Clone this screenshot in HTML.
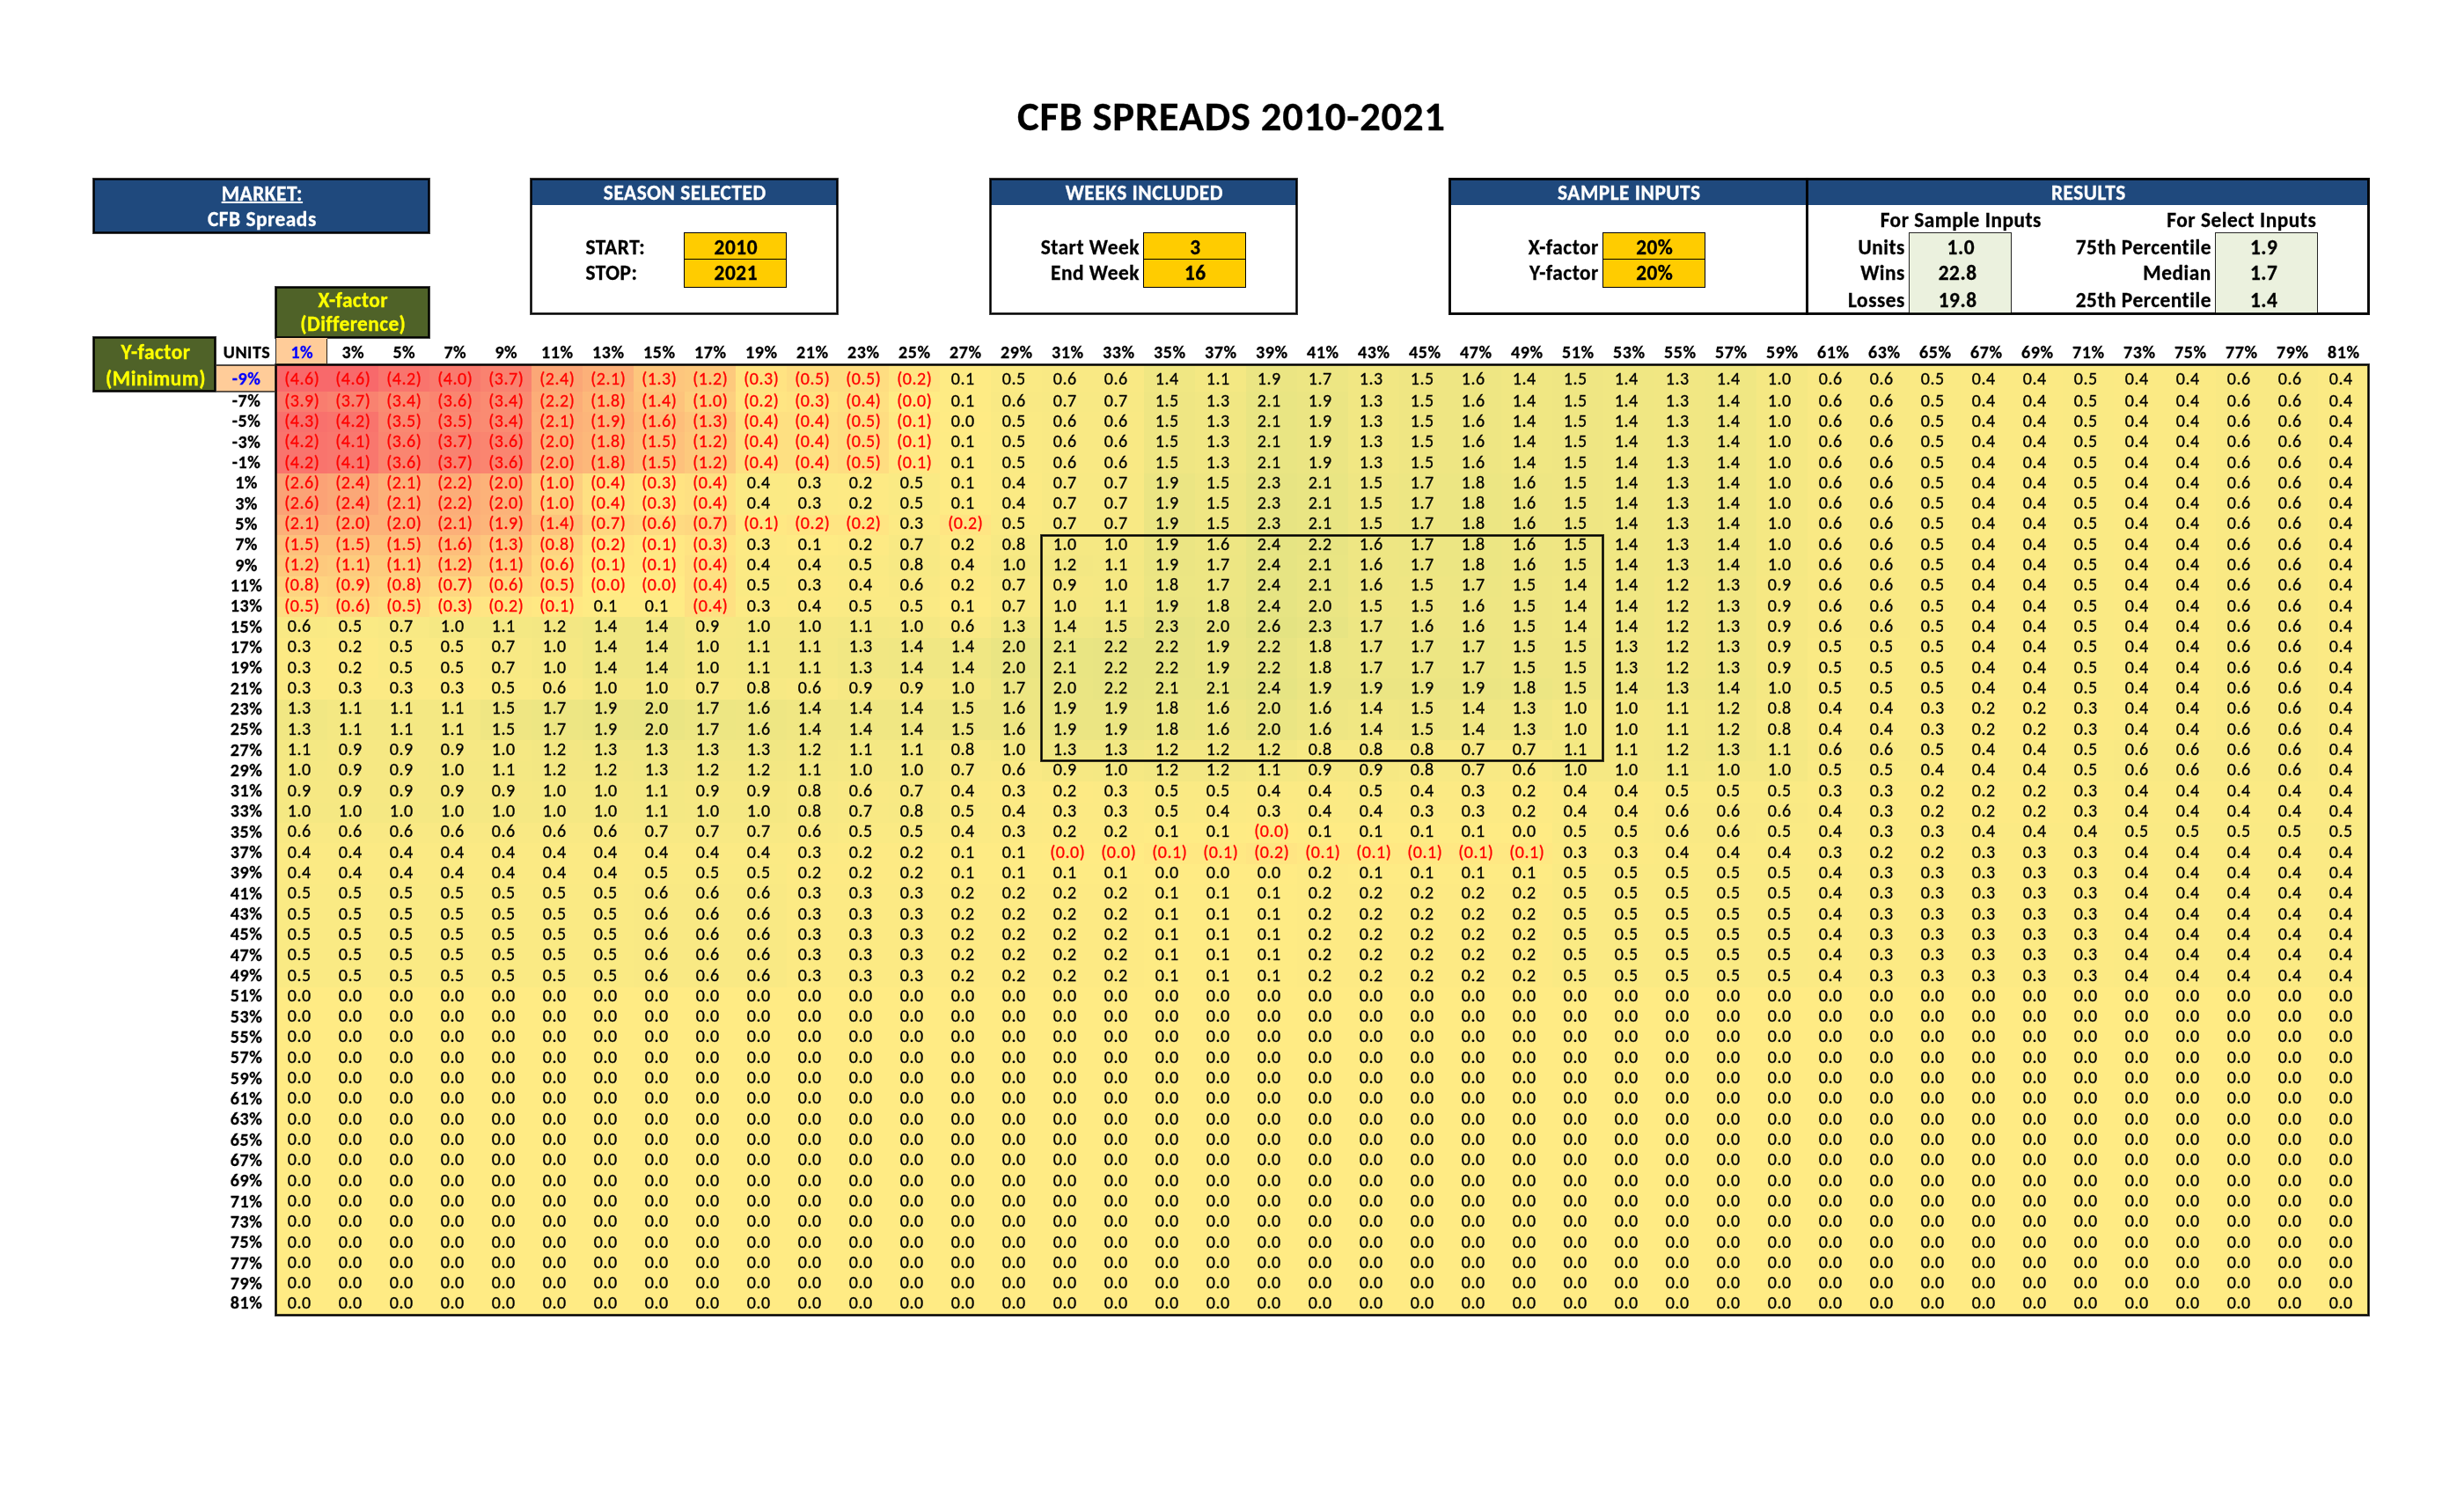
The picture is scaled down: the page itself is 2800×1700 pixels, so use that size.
<!DOCTYPE html><html lang="en"><head><meta charset="utf-8"><title>CFB SPREADS 2010-2021</title>
<style>
html,body{margin:0;padding:0;background:#fff}
body{width:2800px;height:1700px;position:relative;overflow:hidden;font-family:Carlito, Calibri, "Liberation Sans", sans-serif;font-size:20px;color:#000;letter-spacing:0.026em;-webkit-text-stroke:.3px}
div,span,b,i{box-sizing:border-box}
.a{position:absolute;white-space:nowrap}
.r{position:absolute;left:314.3px;width:2378px;white-space:nowrap;font-size:0;letter-spacing:0}
.r i{display:inline-block;font-style:normal;width:58px;height:100%;text-align:center;font-size:20.0px;vertical-align:top;padding-right:6px;letter-spacing:0.026em}
.r i.n{color:#f00;padding-right:0}
.fr{border:1px solid #000;box-shadow:0 0 0 1px rgba(0,0,0,.75),inset 0 0 0 1px rgba(0,0,0,.75)}
.t{position:absolute;white-space:nowrap;font-weight:bold}
.c0{background:#f8696b}
.c1{background:#f8716d}
.c2{background:#f9746d}
.c3{background:#f9776e}
.c4{background:#f97a6e}
.c5{background:#f97d6f}
.c6{background:#f98270}
.c7{background:#fa8570}
.c8{background:#fa8871}
.c9{background:#fa8b72}
.c10{background:#fba276}
.c11{background:#fba777}
.c12{background:#fcad78}
.c13{background:#fcb079}
.c14{background:#fcb279}
.c15{background:#fcb57a}
.c16{background:#fcb87a}
.c17{background:#fdbe7b}
.c18{background:#fdc17c}
.c19{background:#fdc37c}
.c20{background:#fdc67d}
.c21{background:#fdc97d}
.c22{background:#fdcc7e}
.c23{background:#fdcf7f}
.c24{background:#fed27f}
.c25{background:#fed480}
.c26{background:#fed780}
.c27{background:#feda81}
.c28{background:#fedd81}
.c29{background:#fee082}
.c30{background:#ffe382}
.c31{background:#ffe583}
.c32{background:#ffe883}
.c33{background:#ffeb84}
.c34{background:#feeb84}
.c35{background:#fdea84}
.c36{background:#fcea84}
.c37{background:#fbea84}
.c38{background:#faea84}
.c39{background:#f9e984}
.c40{background:#f8e984}
.c41{background:#f7e984}
.c42{background:#f6e883}
.c43{background:#f5e883}
.c44{background:#f4e883}
.c45{background:#f3e783}
.c46{background:#f1e783}
.c47{background:#f0e783}
.c48{background:#efe683}
.c49{background:#eee683}
.c50{background:#ede683}
.c51{background:#ece683}
.c52{background:#ebe583}
.c53{background:#eae583}
.c54{background:#e9e583}
.c55{background:#e8e483}
.c56{background:#e7e483}
.c57{background:#e6e483}
.c58{background:#e4e382}
#w{position:absolute;left:0;top:0;width:2800px;height:1700px;will-change:transform}
</style></head><body><div id="w">
<div class="t" style="top:105.06px;font-size:46.67px;line-height:56px;color:#000;left:799.30px;width:1200px;text-align:center;letter-spacing:.7px;">CFB SPREADS 2010-2021</div>
<div class="a" style="left:106.60px;top:203.90px;width:380.90px;height:60.90px;background:#1f497d;"></div>
<div class="a fr" style="left:106.10px;top:203.40px;width:381.90px;height:61.90px"></div>
<div class="t" style="top:205.73px;font-size:23.33px;line-height:28px;color:#fff;left:-2.15px;width:600px;text-align:center;"><span style="text-decoration:underline;text-underline-offset:1px">MARKET:</span></div>
<div class="t" style="top:234.83px;font-size:23.33px;line-height:28px;color:#fff;left:-2.15px;width:600px;text-align:center;">CFB Spreads</div>
<div class="a" style="left:603.50px;top:203.90px;width:348.00px;height:29.60px;background:#1f497d;"></div>
<div class="a fr" style="left:603.00px;top:203.40px;width:349.00px;height:153.90px"></div>
<div class="t" style="top:205.33px;font-size:23.33px;line-height:28px;color:#fff;left:478.30px;width:600px;text-align:center;">SEASON SELECTED</div>
<div class="t" style="top:266.93px;font-size:23.33px;line-height:28px;color:#000;left:665.50px;">START:</div>
<div class="t" style="top:296.43px;font-size:23.33px;line-height:28px;color:#000;left:665.50px;">STOP:</div>
<div class="a" style="left:777.50px;top:264.80px;width:116.00px;height:30.10px;background:#ffcc00;"></div>
<div class="a" style="left:776.90px;top:264.20px;width:117.20px;height:31.30px;border:1.2px solid #000"></div>
<div class="t" style="top:266.93px;font-size:23.33px;line-height:28px;color:#000;left:778.30px;width:116px;text-align:center;">2010</div>
<div class="a" style="left:777.50px;top:294.90px;width:116.00px;height:31.40px;background:#ffcc00;"></div>
<div class="a" style="left:776.90px;top:294.30px;width:117.20px;height:32.60px;border:1.2px solid #000"></div>
<div class="t" style="top:296.43px;font-size:23.33px;line-height:28px;color:#000;left:778.30px;width:116px;text-align:center;">2021</div>
<div class="a" style="left:1125.50px;top:203.90px;width:348.00px;height:29.60px;background:#1f497d;"></div>
<div class="a fr" style="left:1125.00px;top:203.40px;width:349.00px;height:153.90px"></div>
<div class="t" style="top:205.33px;font-size:23.33px;line-height:28px;color:#fff;left:1000.30px;width:600px;text-align:center;">WEEKS INCLUDED</div>
<div class="t" style="top:266.93px;font-size:23.33px;line-height:28px;color:#000;right:1505.10px;text-align:right;">Start Week</div>
<div class="t" style="top:296.43px;font-size:23.33px;line-height:28px;color:#000;right:1505.10px;text-align:right;">End Week</div>
<div class="a" style="left:1299.50px;top:264.80px;width:116.00px;height:30.10px;background:#ffcc00;"></div>
<div class="a" style="left:1298.90px;top:264.20px;width:117.20px;height:31.30px;border:1.2px solid #000"></div>
<div class="t" style="top:266.93px;font-size:23.33px;line-height:28px;color:#000;left:1300.30px;width:116px;text-align:center;">3</div>
<div class="a" style="left:1299.50px;top:294.90px;width:116.00px;height:31.40px;background:#ffcc00;"></div>
<div class="a" style="left:1298.90px;top:294.30px;width:117.20px;height:32.60px;border:1.2px solid #000"></div>
<div class="t" style="top:296.43px;font-size:23.33px;line-height:28px;color:#000;left:1300.30px;width:116px;text-align:center;">16</div>
<div class="a" style="left:1647.50px;top:203.90px;width:406.00px;height:29.60px;background:#1f497d;"></div>
<div class="a fr" style="left:1647.00px;top:203.40px;width:407.00px;height:153.90px"></div>
<div class="t" style="top:205.33px;font-size:23.33px;line-height:28px;color:#fff;left:1551.30px;width:600px;text-align:center;">SAMPLE INPUTS</div>
<div class="t" style="top:266.93px;font-size:23.33px;line-height:28px;color:#000;right:983.10px;text-align:right;">X-factor</div>
<div class="t" style="top:296.43px;font-size:23.33px;line-height:28px;color:#000;right:983.10px;text-align:right;">Y-factor</div>
<div class="a" style="left:1821.50px;top:264.80px;width:116.00px;height:30.10px;background:#ffcc00;"></div>
<div class="a" style="left:1820.90px;top:264.20px;width:117.20px;height:31.30px;border:1.2px solid #000"></div>
<div class="t" style="top:266.93px;font-size:23.33px;line-height:28px;color:#000;left:1822.30px;width:116px;text-align:center;">20%</div>
<div class="a" style="left:1821.50px;top:294.90px;width:116.00px;height:31.40px;background:#ffcc00;"></div>
<div class="a" style="left:1820.90px;top:294.30px;width:117.20px;height:32.60px;border:1.2px solid #000"></div>
<div class="t" style="top:296.43px;font-size:23.33px;line-height:28px;color:#000;left:1822.30px;width:116px;text-align:center;">20%</div>
<div class="a" style="left:2053.50px;top:203.90px;width:638.00px;height:29.60px;background:#1f497d;"></div>
<div class="a fr" style="left:2053.00px;top:203.40px;width:639.00px;height:153.90px"></div>
<div class="t" style="top:205.33px;font-size:23.33px;line-height:28px;color:#fff;left:2073.30px;width:600px;text-align:center;">RESULTS</div>
<div class="t" style="top:235.53px;font-size:23.33px;line-height:28px;color:#000;left:1928.30px;width:600px;text-align:center;">For Sample Inputs</div>
<div class="t" style="top:235.53px;font-size:23.33px;line-height:28px;color:#000;left:2247.30px;width:600px;text-align:center;">For Select Inputs</div>
<div class="a" style="left:2169.50px;top:264.80px;width:116.00px;height:92.00px;background:#ebf1de;"></div>
<div class="a" style="left:2168.90px;top:264.20px;width:117.20px;height:93.20px;border:1.2px solid #262626"></div>
<div class="a" style="left:2517.50px;top:264.80px;width:116.00px;height:92.00px;background:#ebf1de;"></div>
<div class="a" style="left:2516.90px;top:264.20px;width:117.20px;height:93.20px;border:1.2px solid #262626"></div>
<div class="t" style="top:266.93px;font-size:23.33px;line-height:28px;color:#000;right:635.10px;text-align:right;">Units</div>
<div class="t" style="top:266.93px;font-size:23.33px;line-height:28px;color:#000;left:2170.30px;width:116px;text-align:center;">1.0</div>
<div class="t" style="top:266.93px;font-size:23.33px;line-height:28px;color:#000;right:287.10px;text-align:right;">75th Percentile</div>
<div class="t" style="top:266.93px;font-size:23.33px;line-height:28px;color:#000;left:2514.70px;width:116px;text-align:center;">1.9</div>
<div class="t" style="top:296.43px;font-size:23.33px;line-height:28px;color:#000;right:635.10px;text-align:right;">Wins</div>
<div class="t" style="top:296.43px;font-size:23.33px;line-height:28px;color:#000;left:2166.70px;width:116px;text-align:center;">22.8</div>
<div class="t" style="top:296.43px;font-size:23.33px;line-height:28px;color:#000;right:287.10px;text-align:right;">Median</div>
<div class="t" style="top:296.43px;font-size:23.33px;line-height:28px;color:#000;left:2514.70px;width:116px;text-align:center;">1.7</div>
<div class="t" style="top:326.93px;font-size:23.33px;line-height:28px;color:#000;right:635.10px;text-align:right;">Losses</div>
<div class="t" style="top:326.93px;font-size:23.33px;line-height:28px;color:#000;left:2166.70px;width:116px;text-align:center;">19.8</div>
<div class="t" style="top:326.93px;font-size:23.33px;line-height:28px;color:#000;right:287.10px;text-align:right;">25th Percentile</div>
<div class="t" style="top:326.93px;font-size:23.33px;line-height:28px;color:#000;left:2514.70px;width:116px;text-align:center;">1.4</div>
<div class="a fr" style="left:2053.00px;top:203.40px;width:639.00px;height:153.90px"></div>
<div class="a fr" style="left:1647.00px;top:203.40px;width:407.00px;height:153.90px"></div>
<div class="a" style="left:313.50px;top:326.30px;width:174.00px;height:57.50px;background:#4f6228;"></div>
<div class="a fr" style="left:313.00px;top:325.80px;width:175.00px;height:58.50px"></div>
<div class="t" style="top:327.03px;font-size:23.33px;line-height:28px;color:#ff0;left:101.30px;width:600px;text-align:center;letter-spacing:.018em;">X-factor</div>
<div class="t" style="top:354.03px;font-size:23.33px;line-height:28px;color:#ff0;left:101.30px;width:600px;text-align:center;letter-spacing:.018em;">(Difference)</div>
<div class="a" style="left:106.60px;top:383.80px;width:138.20px;height:61.00px;background:#4f6228;"></div>
<div class="a fr" style="left:106.10px;top:383.30px;width:139.20px;height:61.80px"></div>
<div class="t" style="top:385.83px;font-size:23.33px;line-height:28px;color:#ff0;left:-122.90px;width:600px;text-align:center;">Y-factor</div>
<div class="t" style="top:416.23px;font-size:23.33px;line-height:28px;color:#ff0;left:-122.90px;width:600px;text-align:center;">(Minimum)</div>
<div class="a" style="left:313.50px;top:383.80px;width:58.00px;height:30.70px;background:#ffcc99;"></div>
<div class="a" style="left:371.00px;top:385.30px;width:1.00px;height:27.70px;background:rgba(0,0,0,.85);"></div>
<div class="a" style="left:313.00px;top:385.30px;width:1.00px;height:27.70px;background:rgba(0,0,0,.85);"></div>
<div class="a" style="left:246.00px;top:414.50px;width:67.50px;height:30.30px;background:#ffcc99;"></div>
<div class="a" style="left:246.00px;top:444.00px;width:66.00px;height:2.00px;background:rgba(0,0,0,.62);"></div>
<div class="a" style="left:246.00px;top:414.00px;width:66.00px;height:2.00px;background:rgba(0,0,0,.68);"></div>
<div class="t" style="top:388.37px;font-size:20px;line-height:24px;color:#000;left:240.55px;width:80px;text-align:center;">UNITS</div>
<div class="t" style="top:388.37px;font-size:20px;line-height:24px;color:#00f;left:314.30px;width:58px;text-align:center;">1%</div>
<div class="t" style="top:388.37px;font-size:20px;line-height:24px;color:#000;left:372.30px;width:58px;text-align:center;">3%</div>
<div class="t" style="top:388.37px;font-size:20px;line-height:24px;color:#000;left:430.30px;width:58px;text-align:center;">5%</div>
<div class="t" style="top:388.37px;font-size:20px;line-height:24px;color:#000;left:488.30px;width:58px;text-align:center;">7%</div>
<div class="t" style="top:388.37px;font-size:20px;line-height:24px;color:#000;left:546.30px;width:58px;text-align:center;">9%</div>
<div class="t" style="top:388.37px;font-size:20px;line-height:24px;color:#000;left:604.30px;width:58px;text-align:center;">11%</div>
<div class="t" style="top:388.37px;font-size:20px;line-height:24px;color:#000;left:662.30px;width:58px;text-align:center;">13%</div>
<div class="t" style="top:388.37px;font-size:20px;line-height:24px;color:#000;left:720.30px;width:58px;text-align:center;">15%</div>
<div class="t" style="top:388.37px;font-size:20px;line-height:24px;color:#000;left:778.30px;width:58px;text-align:center;">17%</div>
<div class="t" style="top:388.37px;font-size:20px;line-height:24px;color:#000;left:836.30px;width:58px;text-align:center;">19%</div>
<div class="t" style="top:388.37px;font-size:20px;line-height:24px;color:#000;left:894.30px;width:58px;text-align:center;">21%</div>
<div class="t" style="top:388.37px;font-size:20px;line-height:24px;color:#000;left:952.30px;width:58px;text-align:center;">23%</div>
<div class="t" style="top:388.37px;font-size:20px;line-height:24px;color:#000;left:1010.30px;width:58px;text-align:center;">25%</div>
<div class="t" style="top:388.37px;font-size:20px;line-height:24px;color:#000;left:1068.30px;width:58px;text-align:center;">27%</div>
<div class="t" style="top:388.37px;font-size:20px;line-height:24px;color:#000;left:1126.30px;width:58px;text-align:center;">29%</div>
<div class="t" style="top:388.37px;font-size:20px;line-height:24px;color:#000;left:1184.30px;width:58px;text-align:center;">31%</div>
<div class="t" style="top:388.37px;font-size:20px;line-height:24px;color:#000;left:1242.30px;width:58px;text-align:center;">33%</div>
<div class="t" style="top:388.37px;font-size:20px;line-height:24px;color:#000;left:1300.30px;width:58px;text-align:center;">35%</div>
<div class="t" style="top:388.37px;font-size:20px;line-height:24px;color:#000;left:1358.30px;width:58px;text-align:center;">37%</div>
<div class="t" style="top:388.37px;font-size:20px;line-height:24px;color:#000;left:1416.30px;width:58px;text-align:center;">39%</div>
<div class="t" style="top:388.37px;font-size:20px;line-height:24px;color:#000;left:1474.30px;width:58px;text-align:center;">41%</div>
<div class="t" style="top:388.37px;font-size:20px;line-height:24px;color:#000;left:1532.30px;width:58px;text-align:center;">43%</div>
<div class="t" style="top:388.37px;font-size:20px;line-height:24px;color:#000;left:1590.30px;width:58px;text-align:center;">45%</div>
<div class="t" style="top:388.37px;font-size:20px;line-height:24px;color:#000;left:1648.30px;width:58px;text-align:center;">47%</div>
<div class="t" style="top:388.37px;font-size:20px;line-height:24px;color:#000;left:1706.30px;width:58px;text-align:center;">49%</div>
<div class="t" style="top:388.37px;font-size:20px;line-height:24px;color:#000;left:1764.30px;width:58px;text-align:center;">51%</div>
<div class="t" style="top:388.37px;font-size:20px;line-height:24px;color:#000;left:1822.30px;width:58px;text-align:center;">53%</div>
<div class="t" style="top:388.37px;font-size:20px;line-height:24px;color:#000;left:1880.30px;width:58px;text-align:center;">55%</div>
<div class="t" style="top:388.37px;font-size:20px;line-height:24px;color:#000;left:1938.30px;width:58px;text-align:center;">57%</div>
<div class="t" style="top:388.37px;font-size:20px;line-height:24px;color:#000;left:1996.30px;width:58px;text-align:center;">59%</div>
<div class="t" style="top:388.37px;font-size:20px;line-height:24px;color:#000;left:2054.30px;width:58px;text-align:center;">61%</div>
<div class="t" style="top:388.37px;font-size:20px;line-height:24px;color:#000;left:2112.30px;width:58px;text-align:center;">63%</div>
<div class="t" style="top:388.37px;font-size:20px;line-height:24px;color:#000;left:2170.30px;width:58px;text-align:center;">65%</div>
<div class="t" style="top:388.37px;font-size:20px;line-height:24px;color:#000;left:2228.30px;width:58px;text-align:center;">67%</div>
<div class="t" style="top:388.37px;font-size:20px;line-height:24px;color:#000;left:2286.30px;width:58px;text-align:center;">69%</div>
<div class="t" style="top:388.37px;font-size:20px;line-height:24px;color:#000;left:2344.30px;width:58px;text-align:center;">71%</div>
<div class="t" style="top:388.37px;font-size:20px;line-height:24px;color:#000;left:2402.30px;width:58px;text-align:center;">73%</div>
<div class="t" style="top:388.37px;font-size:20px;line-height:24px;color:#000;left:2460.30px;width:58px;text-align:center;">75%</div>
<div class="t" style="top:388.37px;font-size:20px;line-height:24px;color:#000;left:2518.30px;width:58px;text-align:center;">77%</div>
<div class="t" style="top:388.37px;font-size:20px;line-height:24px;color:#000;left:2576.30px;width:58px;text-align:center;">79%</div>
<div class="t" style="top:388.37px;font-size:20px;line-height:24px;color:#000;left:2634.30px;width:58px;text-align:center;">81%</div>
<div class="t" style="top:418.37px;font-size:20px;line-height:24px;color:#00f;left:246.55px;width:67px;text-align:center;">-9%</div>
<div class="t" style="top:443.07px;font-size:20px;line-height:24px;color:#000;left:246.55px;width:67px;text-align:center;">-7%</div>
<div class="t" style="top:466.39px;font-size:20px;line-height:24px;color:#000;left:246.55px;width:67px;text-align:center;">-5%</div>
<div class="t" style="top:489.71px;font-size:20px;line-height:24px;color:#000;left:246.55px;width:67px;text-align:center;">-3%</div>
<div class="t" style="top:513.03px;font-size:20px;line-height:24px;color:#000;left:246.55px;width:67px;text-align:center;">-1%</div>
<div class="t" style="top:536.35px;font-size:20px;line-height:24px;color:#000;left:246.55px;width:67px;text-align:center;">1%</div>
<div class="t" style="top:559.67px;font-size:20px;line-height:24px;color:#000;left:246.55px;width:67px;text-align:center;">3%</div>
<div class="t" style="top:582.99px;font-size:20px;line-height:24px;color:#000;left:246.55px;width:67px;text-align:center;">5%</div>
<div class="t" style="top:606.31px;font-size:20px;line-height:24px;color:#000;left:246.55px;width:67px;text-align:center;">7%</div>
<div class="t" style="top:629.63px;font-size:20px;line-height:24px;color:#000;left:246.55px;width:67px;text-align:center;">9%</div>
<div class="t" style="top:652.95px;font-size:20px;line-height:24px;color:#000;left:246.55px;width:67px;text-align:center;">11%</div>
<div class="t" style="top:676.27px;font-size:20px;line-height:24px;color:#000;left:246.55px;width:67px;text-align:center;">13%</div>
<div class="t" style="top:699.59px;font-size:20px;line-height:24px;color:#000;left:246.55px;width:67px;text-align:center;">15%</div>
<div class="t" style="top:722.91px;font-size:20px;line-height:24px;color:#000;left:246.55px;width:67px;text-align:center;">17%</div>
<div class="t" style="top:746.23px;font-size:20px;line-height:24px;color:#000;left:246.55px;width:67px;text-align:center;">19%</div>
<div class="t" style="top:769.55px;font-size:20px;line-height:24px;color:#000;left:246.55px;width:67px;text-align:center;">21%</div>
<div class="t" style="top:792.87px;font-size:20px;line-height:24px;color:#000;left:246.55px;width:67px;text-align:center;">23%</div>
<div class="t" style="top:816.19px;font-size:20px;line-height:24px;color:#000;left:246.55px;width:67px;text-align:center;">25%</div>
<div class="t" style="top:839.51px;font-size:20px;line-height:24px;color:#000;left:246.55px;width:67px;text-align:center;">27%</div>
<div class="t" style="top:862.83px;font-size:20px;line-height:24px;color:#000;left:246.55px;width:67px;text-align:center;">29%</div>
<div class="t" style="top:886.15px;font-size:20px;line-height:24px;color:#000;left:246.55px;width:67px;text-align:center;">31%</div>
<div class="t" style="top:909.47px;font-size:20px;line-height:24px;color:#000;left:246.55px;width:67px;text-align:center;">33%</div>
<div class="t" style="top:932.79px;font-size:20px;line-height:24px;color:#000;left:246.55px;width:67px;text-align:center;">35%</div>
<div class="t" style="top:956.11px;font-size:20px;line-height:24px;color:#000;left:246.55px;width:67px;text-align:center;">37%</div>
<div class="t" style="top:979.43px;font-size:20px;line-height:24px;color:#000;left:246.55px;width:67px;text-align:center;">39%</div>
<div class="t" style="top:1002.75px;font-size:20px;line-height:24px;color:#000;left:246.55px;width:67px;text-align:center;">41%</div>
<div class="t" style="top:1026.07px;font-size:20px;line-height:24px;color:#000;left:246.55px;width:67px;text-align:center;">43%</div>
<div class="t" style="top:1049.39px;font-size:20px;line-height:24px;color:#000;left:246.55px;width:67px;text-align:center;">45%</div>
<div class="t" style="top:1072.71px;font-size:20px;line-height:24px;color:#000;left:246.55px;width:67px;text-align:center;">47%</div>
<div class="t" style="top:1096.03px;font-size:20px;line-height:24px;color:#000;left:246.55px;width:67px;text-align:center;">49%</div>
<div class="t" style="top:1119.35px;font-size:20px;line-height:24px;color:#000;left:246.55px;width:67px;text-align:center;">51%</div>
<div class="t" style="top:1142.67px;font-size:20px;line-height:24px;color:#000;left:246.55px;width:67px;text-align:center;">53%</div>
<div class="t" style="top:1165.99px;font-size:20px;line-height:24px;color:#000;left:246.55px;width:67px;text-align:center;">55%</div>
<div class="t" style="top:1189.31px;font-size:20px;line-height:24px;color:#000;left:246.55px;width:67px;text-align:center;">57%</div>
<div class="t" style="top:1212.63px;font-size:20px;line-height:24px;color:#000;left:246.55px;width:67px;text-align:center;">59%</div>
<div class="t" style="top:1235.95px;font-size:20px;line-height:24px;color:#000;left:246.55px;width:67px;text-align:center;">61%</div>
<div class="t" style="top:1259.27px;font-size:20px;line-height:24px;color:#000;left:246.55px;width:67px;text-align:center;">63%</div>
<div class="t" style="top:1282.59px;font-size:20px;line-height:24px;color:#000;left:246.55px;width:67px;text-align:center;">65%</div>
<div class="t" style="top:1305.91px;font-size:20px;line-height:24px;color:#000;left:246.55px;width:67px;text-align:center;">67%</div>
<div class="t" style="top:1329.23px;font-size:20px;line-height:24px;color:#000;left:246.55px;width:67px;text-align:center;">69%</div>
<div class="t" style="top:1352.55px;font-size:20px;line-height:24px;color:#000;left:246.55px;width:67px;text-align:center;">71%</div>
<div class="t" style="top:1375.87px;font-size:20px;line-height:24px;color:#000;left:246.55px;width:67px;text-align:center;">73%</div>
<div class="t" style="top:1399.19px;font-size:20px;line-height:24px;color:#000;left:246.55px;width:67px;text-align:center;">75%</div>
<div class="t" style="top:1422.51px;font-size:20px;line-height:24px;color:#000;left:246.55px;width:67px;text-align:center;">77%</div>
<div class="t" style="top:1445.53px;font-size:20px;line-height:24px;color:#000;left:246.55px;width:67px;text-align:center;">79%</div>
<div class="t" style="top:1468.35px;font-size:20px;line-height:24px;color:#000;left:246.55px;width:67px;text-align:center;">81%</div>
<div class="r" style="top:414px;height:31px;line-height:32.73px"><i class="c0 n">(4.6)</i><i class="c0 n">(4.6)</i><i class="c2 n">(4.2)</i><i class="c4 n">(4.0)</i><i class="c6 n">(3.7)</i><i class="c11 n">(2.4)</i><i class="c13 n">(2.1)</i><i class="c20 n">(1.3)</i><i class="c21 n">(1.2)</i><i class="c30 n">(0.3)</i><i class="c28 n">(0.5)</i><i class="c28 n">(0.5)</i><i class="c31 n">(0.2)</i><i class="c34">0.1</i><i class="c38">0.5</i><i class="c39">0.6</i><i class="c39">0.6</i><i class="c47">1.4</i><i class="c44">1.1</i><i class="c52">1.9</i><i class="c50">1.7</i><i class="c46">1.3</i><i class="c48">1.5</i><i class="c49">1.6</i><i class="c47">1.4</i><i class="c48">1.5</i><i class="c47">1.4</i><i class="c46">1.3</i><i class="c47">1.4</i><i class="c43">1.0</i><i class="c39">0.6</i><i class="c39">0.6</i><i class="c38">0.5</i><i class="c37">0.4</i><i class="c37">0.4</i><i class="c38">0.5</i><i class="c37">0.4</i><i class="c37">0.4</i><i class="c39">0.6</i><i class="c39">0.6</i><i class="c37">0.4</i></div>
<div class="r" style="top:445px;height:23px;line-height:20.13px"><i class="c5 n">(3.9)</i><i class="c6 n">(3.7)</i><i class="c9 n">(3.4)</i><i class="c7 n">(3.6)</i><i class="c9 n">(3.4)</i><i class="c12 n">(2.2)</i><i class="c16 n">(1.8)</i><i class="c19 n">(1.4)</i><i class="c23 n">(1.0)</i><i class="c31 n">(0.2)</i><i class="c30 n">(0.3)</i><i class="c29 n">(0.4)</i><i class="c33 n">(0.0)</i><i class="c34">0.1</i><i class="c39">0.6</i><i class="c40">0.7</i><i class="c40">0.7</i><i class="c48">1.5</i><i class="c46">1.3</i><i class="c54">2.1</i><i class="c52">1.9</i><i class="c46">1.3</i><i class="c48">1.5</i><i class="c49">1.6</i><i class="c47">1.4</i><i class="c48">1.5</i><i class="c47">1.4</i><i class="c46">1.3</i><i class="c47">1.4</i><i class="c43">1.0</i><i class="c39">0.6</i><i class="c39">0.6</i><i class="c38">0.5</i><i class="c37">0.4</i><i class="c37">0.4</i><i class="c38">0.5</i><i class="c37">0.4</i><i class="c37">0.4</i><i class="c39">0.6</i><i class="c39">0.6</i><i class="c37">0.4</i></div>
<div class="r" style="top:468px;height:23px;line-height:20.77px"><i class="c1 n">(4.3)</i><i class="c2 n">(4.2)</i><i class="c8 n">(3.5)</i><i class="c8 n">(3.5)</i><i class="c9 n">(3.4)</i><i class="c13 n">(2.1)</i><i class="c15 n">(1.9)</i><i class="c17 n">(1.6)</i><i class="c20 n">(1.3)</i><i class="c29 n">(0.4)</i><i class="c29 n">(0.4)</i><i class="c28 n">(0.5)</i><i class="c32 n">(0.1)</i><i class="c33">0.0</i><i class="c38">0.5</i><i class="c39">0.6</i><i class="c39">0.6</i><i class="c48">1.5</i><i class="c46">1.3</i><i class="c54">2.1</i><i class="c52">1.9</i><i class="c46">1.3</i><i class="c48">1.5</i><i class="c49">1.6</i><i class="c47">1.4</i><i class="c48">1.5</i><i class="c47">1.4</i><i class="c46">1.3</i><i class="c47">1.4</i><i class="c43">1.0</i><i class="c39">0.6</i><i class="c39">0.6</i><i class="c38">0.5</i><i class="c37">0.4</i><i class="c37">0.4</i><i class="c38">0.5</i><i class="c37">0.4</i><i class="c37">0.4</i><i class="c39">0.6</i><i class="c39">0.6</i><i class="c37">0.4</i></div>
<div class="r" style="top:491px;height:24px;line-height:21.41px"><i class="c2 n">(4.2)</i><i class="c3 n">(4.1)</i><i class="c7 n">(3.6)</i><i class="c6 n">(3.7)</i><i class="c7 n">(3.6)</i><i class="c14 n">(2.0)</i><i class="c16 n">(1.8)</i><i class="c18 n">(1.5)</i><i class="c21 n">(1.2)</i><i class="c29 n">(0.4)</i><i class="c29 n">(0.4)</i><i class="c28 n">(0.5)</i><i class="c32 n">(0.1)</i><i class="c34">0.1</i><i class="c38">0.5</i><i class="c39">0.6</i><i class="c39">0.6</i><i class="c48">1.5</i><i class="c46">1.3</i><i class="c54">2.1</i><i class="c52">1.9</i><i class="c46">1.3</i><i class="c48">1.5</i><i class="c49">1.6</i><i class="c47">1.4</i><i class="c48">1.5</i><i class="c47">1.4</i><i class="c46">1.3</i><i class="c47">1.4</i><i class="c43">1.0</i><i class="c39">0.6</i><i class="c39">0.6</i><i class="c38">0.5</i><i class="c37">0.4</i><i class="c37">0.4</i><i class="c38">0.5</i><i class="c37">0.4</i><i class="c37">0.4</i><i class="c39">0.6</i><i class="c39">0.6</i><i class="c37">0.4</i></div>
<div class="r" style="top:515px;height:23px;line-height:20.05px"><i class="c2 n">(4.2)</i><i class="c3 n">(4.1)</i><i class="c7 n">(3.6)</i><i class="c6 n">(3.7)</i><i class="c7 n">(3.6)</i><i class="c14 n">(2.0)</i><i class="c16 n">(1.8)</i><i class="c18 n">(1.5)</i><i class="c21 n">(1.2)</i><i class="c29 n">(0.4)</i><i class="c29 n">(0.4)</i><i class="c28 n">(0.5)</i><i class="c32 n">(0.1)</i><i class="c34">0.1</i><i class="c38">0.5</i><i class="c39">0.6</i><i class="c39">0.6</i><i class="c48">1.5</i><i class="c46">1.3</i><i class="c54">2.1</i><i class="c52">1.9</i><i class="c46">1.3</i><i class="c48">1.5</i><i class="c49">1.6</i><i class="c47">1.4</i><i class="c48">1.5</i><i class="c47">1.4</i><i class="c46">1.3</i><i class="c47">1.4</i><i class="c43">1.0</i><i class="c39">0.6</i><i class="c39">0.6</i><i class="c38">0.5</i><i class="c37">0.4</i><i class="c37">0.4</i><i class="c38">0.5</i><i class="c37">0.4</i><i class="c37">0.4</i><i class="c39">0.6</i><i class="c39">0.6</i><i class="c37">0.4</i></div>
<div class="r" style="top:538px;height:23px;line-height:20.69px"><i class="c10 n">(2.6)</i><i class="c11 n">(2.4)</i><i class="c13 n">(2.1)</i><i class="c12 n">(2.2)</i><i class="c14 n">(2.0)</i><i class="c23 n">(1.0)</i><i class="c29 n">(0.4)</i><i class="c30 n">(0.3)</i><i class="c29 n">(0.4)</i><i class="c37">0.4</i><i class="c36">0.3</i><i class="c35">0.2</i><i class="c38">0.5</i><i class="c34">0.1</i><i class="c37">0.4</i><i class="c40">0.7</i><i class="c40">0.7</i><i class="c52">1.9</i><i class="c48">1.5</i><i class="c56">2.3</i><i class="c54">2.1</i><i class="c48">1.5</i><i class="c50">1.7</i><i class="c51">1.8</i><i class="c49">1.6</i><i class="c48">1.5</i><i class="c47">1.4</i><i class="c46">1.3</i><i class="c47">1.4</i><i class="c43">1.0</i><i class="c39">0.6</i><i class="c39">0.6</i><i class="c38">0.5</i><i class="c37">0.4</i><i class="c37">0.4</i><i class="c38">0.5</i><i class="c37">0.4</i><i class="c37">0.4</i><i class="c39">0.6</i><i class="c39">0.6</i><i class="c37">0.4</i></div>
<div class="r" style="top:561px;height:24px;line-height:21.33px"><i class="c10 n">(2.6)</i><i class="c11 n">(2.4)</i><i class="c13 n">(2.1)</i><i class="c12 n">(2.2)</i><i class="c14 n">(2.0)</i><i class="c23 n">(1.0)</i><i class="c29 n">(0.4)</i><i class="c30 n">(0.3)</i><i class="c29 n">(0.4)</i><i class="c37">0.4</i><i class="c36">0.3</i><i class="c35">0.2</i><i class="c38">0.5</i><i class="c34">0.1</i><i class="c37">0.4</i><i class="c40">0.7</i><i class="c40">0.7</i><i class="c52">1.9</i><i class="c48">1.5</i><i class="c56">2.3</i><i class="c54">2.1</i><i class="c48">1.5</i><i class="c50">1.7</i><i class="c51">1.8</i><i class="c49">1.6</i><i class="c48">1.5</i><i class="c47">1.4</i><i class="c46">1.3</i><i class="c47">1.4</i><i class="c43">1.0</i><i class="c39">0.6</i><i class="c39">0.6</i><i class="c38">0.5</i><i class="c37">0.4</i><i class="c37">0.4</i><i class="c38">0.5</i><i class="c37">0.4</i><i class="c37">0.4</i><i class="c39">0.6</i><i class="c39">0.6</i><i class="c37">0.4</i></div>
<div class="r" style="top:585px;height:23px;line-height:19.97px"><i class="c13 n">(2.1)</i><i class="c14 n">(2.0)</i><i class="c14 n">(2.0)</i><i class="c13 n">(2.1)</i><i class="c15 n">(1.9)</i><i class="c19 n">(1.4)</i><i class="c26 n">(0.7)</i><i class="c27 n">(0.6)</i><i class="c26 n">(0.7)</i><i class="c32 n">(0.1)</i><i class="c31 n">(0.2)</i><i class="c31 n">(0.2)</i><i class="c36">0.3</i><i class="c31 n">(0.2)</i><i class="c38">0.5</i><i class="c40">0.7</i><i class="c40">0.7</i><i class="c52">1.9</i><i class="c48">1.5</i><i class="c56">2.3</i><i class="c54">2.1</i><i class="c48">1.5</i><i class="c50">1.7</i><i class="c51">1.8</i><i class="c49">1.6</i><i class="c48">1.5</i><i class="c47">1.4</i><i class="c46">1.3</i><i class="c47">1.4</i><i class="c43">1.0</i><i class="c39">0.6</i><i class="c39">0.6</i><i class="c38">0.5</i><i class="c37">0.4</i><i class="c37">0.4</i><i class="c38">0.5</i><i class="c37">0.4</i><i class="c37">0.4</i><i class="c39">0.6</i><i class="c39">0.6</i><i class="c37">0.4</i></div>
<div class="r" style="top:608px;height:23px;line-height:20.61px"><i class="c18 n">(1.5)</i><i class="c18 n">(1.5)</i><i class="c18 n">(1.5)</i><i class="c17 n">(1.6)</i><i class="c20 n">(1.3)</i><i class="c25 n">(0.8)</i><i class="c31 n">(0.2)</i><i class="c32 n">(0.1)</i><i class="c30 n">(0.3)</i><i class="c36">0.3</i><i class="c34">0.1</i><i class="c35">0.2</i><i class="c40">0.7</i><i class="c35">0.2</i><i class="c41">0.8</i><i class="c43">1.0</i><i class="c43">1.0</i><i class="c52">1.9</i><i class="c49">1.6</i><i class="c57">2.4</i><i class="c55">2.2</i><i class="c49">1.6</i><i class="c50">1.7</i><i class="c51">1.8</i><i class="c49">1.6</i><i class="c48">1.5</i><i class="c47">1.4</i><i class="c46">1.3</i><i class="c47">1.4</i><i class="c43">1.0</i><i class="c39">0.6</i><i class="c39">0.6</i><i class="c38">0.5</i><i class="c37">0.4</i><i class="c37">0.4</i><i class="c38">0.5</i><i class="c37">0.4</i><i class="c37">0.4</i><i class="c39">0.6</i><i class="c39">0.6</i><i class="c37">0.4</i></div>
<div class="r" style="top:631px;height:24px;line-height:21.25px"><i class="c21 n">(1.2)</i><i class="c22 n">(1.1)</i><i class="c22 n">(1.1)</i><i class="c21 n">(1.2)</i><i class="c22 n">(1.1)</i><i class="c27 n">(0.6)</i><i class="c32 n">(0.1)</i><i class="c32 n">(0.1)</i><i class="c29 n">(0.4)</i><i class="c37">0.4</i><i class="c37">0.4</i><i class="c38">0.5</i><i class="c41">0.8</i><i class="c37">0.4</i><i class="c43">1.0</i><i class="c45">1.2</i><i class="c44">1.1</i><i class="c52">1.9</i><i class="c50">1.7</i><i class="c57">2.4</i><i class="c54">2.1</i><i class="c49">1.6</i><i class="c50">1.7</i><i class="c51">1.8</i><i class="c49">1.6</i><i class="c48">1.5</i><i class="c47">1.4</i><i class="c46">1.3</i><i class="c47">1.4</i><i class="c43">1.0</i><i class="c39">0.6</i><i class="c39">0.6</i><i class="c38">0.5</i><i class="c37">0.4</i><i class="c37">0.4</i><i class="c38">0.5</i><i class="c37">0.4</i><i class="c37">0.4</i><i class="c39">0.6</i><i class="c39">0.6</i><i class="c37">0.4</i></div>
<div class="r" style="top:655px;height:23px;line-height:19.89px"><i class="c25 n">(0.8)</i><i class="c24 n">(0.9)</i><i class="c25 n">(0.8)</i><i class="c26 n">(0.7)</i><i class="c27 n">(0.6)</i><i class="c28 n">(0.5)</i><i class="c33 n">(0.0)</i><i class="c33 n">(0.0)</i><i class="c29 n">(0.4)</i><i class="c38">0.5</i><i class="c36">0.3</i><i class="c37">0.4</i><i class="c39">0.6</i><i class="c35">0.2</i><i class="c40">0.7</i><i class="c42">0.9</i><i class="c43">1.0</i><i class="c51">1.8</i><i class="c50">1.7</i><i class="c57">2.4</i><i class="c54">2.1</i><i class="c49">1.6</i><i class="c48">1.5</i><i class="c50">1.7</i><i class="c48">1.5</i><i class="c47">1.4</i><i class="c47">1.4</i><i class="c45">1.2</i><i class="c46">1.3</i><i class="c42">0.9</i><i class="c39">0.6</i><i class="c39">0.6</i><i class="c38">0.5</i><i class="c37">0.4</i><i class="c37">0.4</i><i class="c38">0.5</i><i class="c37">0.4</i><i class="c37">0.4</i><i class="c39">0.6</i><i class="c39">0.6</i><i class="c37">0.4</i></div>
<div class="r" style="top:678px;height:23px;line-height:20.53px"><i class="c28 n">(0.5)</i><i class="c27 n">(0.6)</i><i class="c28 n">(0.5)</i><i class="c30 n">(0.3)</i><i class="c31 n">(0.2)</i><i class="c32 n">(0.1)</i><i class="c34">0.1</i><i class="c34">0.1</i><i class="c29 n">(0.4)</i><i class="c36">0.3</i><i class="c37">0.4</i><i class="c38">0.5</i><i class="c38">0.5</i><i class="c34">0.1</i><i class="c40">0.7</i><i class="c43">1.0</i><i class="c44">1.1</i><i class="c52">1.9</i><i class="c51">1.8</i><i class="c57">2.4</i><i class="c53">2.0</i><i class="c48">1.5</i><i class="c48">1.5</i><i class="c49">1.6</i><i class="c48">1.5</i><i class="c47">1.4</i><i class="c47">1.4</i><i class="c45">1.2</i><i class="c46">1.3</i><i class="c42">0.9</i><i class="c39">0.6</i><i class="c39">0.6</i><i class="c38">0.5</i><i class="c37">0.4</i><i class="c37">0.4</i><i class="c38">0.5</i><i class="c37">0.4</i><i class="c37">0.4</i><i class="c39">0.6</i><i class="c39">0.6</i><i class="c37">0.4</i></div>
<div class="r" style="top:701px;height:24px;line-height:21.17px"><i class="c39">0.6</i><i class="c38">0.5</i><i class="c40">0.7</i><i class="c43">1.0</i><i class="c44">1.1</i><i class="c45">1.2</i><i class="c47">1.4</i><i class="c47">1.4</i><i class="c42">0.9</i><i class="c43">1.0</i><i class="c43">1.0</i><i class="c44">1.1</i><i class="c43">1.0</i><i class="c39">0.6</i><i class="c46">1.3</i><i class="c47">1.4</i><i class="c48">1.5</i><i class="c56">2.3</i><i class="c53">2.0</i><i class="c58">2.6</i><i class="c56">2.3</i><i class="c50">1.7</i><i class="c49">1.6</i><i class="c49">1.6</i><i class="c48">1.5</i><i class="c47">1.4</i><i class="c47">1.4</i><i class="c45">1.2</i><i class="c46">1.3</i><i class="c42">0.9</i><i class="c39">0.6</i><i class="c39">0.6</i><i class="c38">0.5</i><i class="c37">0.4</i><i class="c37">0.4</i><i class="c38">0.5</i><i class="c37">0.4</i><i class="c37">0.4</i><i class="c39">0.6</i><i class="c39">0.6</i><i class="c37">0.4</i></div>
<div class="r" style="top:725px;height:23px;line-height:19.81px"><i class="c36">0.3</i><i class="c35">0.2</i><i class="c38">0.5</i><i class="c38">0.5</i><i class="c40">0.7</i><i class="c43">1.0</i><i class="c47">1.4</i><i class="c47">1.4</i><i class="c43">1.0</i><i class="c44">1.1</i><i class="c44">1.1</i><i class="c46">1.3</i><i class="c47">1.4</i><i class="c47">1.4</i><i class="c53">2.0</i><i class="c54">2.1</i><i class="c55">2.2</i><i class="c55">2.2</i><i class="c52">1.9</i><i class="c55">2.2</i><i class="c51">1.8</i><i class="c50">1.7</i><i class="c50">1.7</i><i class="c50">1.7</i><i class="c48">1.5</i><i class="c48">1.5</i><i class="c46">1.3</i><i class="c45">1.2</i><i class="c46">1.3</i><i class="c42">0.9</i><i class="c38">0.5</i><i class="c38">0.5</i><i class="c38">0.5</i><i class="c37">0.4</i><i class="c37">0.4</i><i class="c38">0.5</i><i class="c37">0.4</i><i class="c37">0.4</i><i class="c39">0.6</i><i class="c39">0.6</i><i class="c37">0.4</i></div>
<div class="r" style="top:748px;height:23px;line-height:20.45px"><i class="c36">0.3</i><i class="c35">0.2</i><i class="c38">0.5</i><i class="c38">0.5</i><i class="c40">0.7</i><i class="c43">1.0</i><i class="c47">1.4</i><i class="c47">1.4</i><i class="c43">1.0</i><i class="c44">1.1</i><i class="c44">1.1</i><i class="c46">1.3</i><i class="c47">1.4</i><i class="c47">1.4</i><i class="c53">2.0</i><i class="c54">2.1</i><i class="c55">2.2</i><i class="c55">2.2</i><i class="c52">1.9</i><i class="c55">2.2</i><i class="c51">1.8</i><i class="c50">1.7</i><i class="c50">1.7</i><i class="c50">1.7</i><i class="c48">1.5</i><i class="c48">1.5</i><i class="c46">1.3</i><i class="c45">1.2</i><i class="c46">1.3</i><i class="c42">0.9</i><i class="c38">0.5</i><i class="c38">0.5</i><i class="c38">0.5</i><i class="c37">0.4</i><i class="c37">0.4</i><i class="c38">0.5</i><i class="c37">0.4</i><i class="c37">0.4</i><i class="c39">0.6</i><i class="c39">0.6</i><i class="c37">0.4</i></div>
<div class="r" style="top:771px;height:24px;line-height:21.09px"><i class="c36">0.3</i><i class="c36">0.3</i><i class="c36">0.3</i><i class="c36">0.3</i><i class="c38">0.5</i><i class="c39">0.6</i><i class="c43">1.0</i><i class="c43">1.0</i><i class="c40">0.7</i><i class="c41">0.8</i><i class="c39">0.6</i><i class="c42">0.9</i><i class="c42">0.9</i><i class="c43">1.0</i><i class="c50">1.7</i><i class="c53">2.0</i><i class="c55">2.2</i><i class="c54">2.1</i><i class="c54">2.1</i><i class="c57">2.4</i><i class="c52">1.9</i><i class="c52">1.9</i><i class="c52">1.9</i><i class="c52">1.9</i><i class="c51">1.8</i><i class="c48">1.5</i><i class="c47">1.4</i><i class="c46">1.3</i><i class="c47">1.4</i><i class="c43">1.0</i><i class="c38">0.5</i><i class="c38">0.5</i><i class="c38">0.5</i><i class="c37">0.4</i><i class="c37">0.4</i><i class="c38">0.5</i><i class="c37">0.4</i><i class="c37">0.4</i><i class="c39">0.6</i><i class="c39">0.6</i><i class="c37">0.4</i></div>
<div class="r" style="top:795px;height:23px;line-height:19.73px"><i class="c46">1.3</i><i class="c44">1.1</i><i class="c44">1.1</i><i class="c44">1.1</i><i class="c48">1.5</i><i class="c50">1.7</i><i class="c52">1.9</i><i class="c53">2.0</i><i class="c50">1.7</i><i class="c49">1.6</i><i class="c47">1.4</i><i class="c47">1.4</i><i class="c47">1.4</i><i class="c48">1.5</i><i class="c49">1.6</i><i class="c52">1.9</i><i class="c52">1.9</i><i class="c51">1.8</i><i class="c49">1.6</i><i class="c53">2.0</i><i class="c49">1.6</i><i class="c47">1.4</i><i class="c48">1.5</i><i class="c47">1.4</i><i class="c46">1.3</i><i class="c43">1.0</i><i class="c43">1.0</i><i class="c44">1.1</i><i class="c45">1.2</i><i class="c41">0.8</i><i class="c37">0.4</i><i class="c37">0.4</i><i class="c36">0.3</i><i class="c35">0.2</i><i class="c35">0.2</i><i class="c36">0.3</i><i class="c37">0.4</i><i class="c37">0.4</i><i class="c39">0.6</i><i class="c39">0.6</i><i class="c37">0.4</i></div>
<div class="r" style="top:818px;height:23px;line-height:20.37px"><i class="c46">1.3</i><i class="c44">1.1</i><i class="c44">1.1</i><i class="c44">1.1</i><i class="c48">1.5</i><i class="c50">1.7</i><i class="c52">1.9</i><i class="c53">2.0</i><i class="c50">1.7</i><i class="c49">1.6</i><i class="c47">1.4</i><i class="c47">1.4</i><i class="c47">1.4</i><i class="c48">1.5</i><i class="c49">1.6</i><i class="c52">1.9</i><i class="c52">1.9</i><i class="c51">1.8</i><i class="c49">1.6</i><i class="c53">2.0</i><i class="c49">1.6</i><i class="c47">1.4</i><i class="c48">1.5</i><i class="c47">1.4</i><i class="c46">1.3</i><i class="c43">1.0</i><i class="c43">1.0</i><i class="c44">1.1</i><i class="c45">1.2</i><i class="c41">0.8</i><i class="c37">0.4</i><i class="c37">0.4</i><i class="c36">0.3</i><i class="c35">0.2</i><i class="c35">0.2</i><i class="c36">0.3</i><i class="c37">0.4</i><i class="c37">0.4</i><i class="c39">0.6</i><i class="c39">0.6</i><i class="c37">0.4</i></div>
<div class="r" style="top:841px;height:24px;line-height:21.01px"><i class="c44">1.1</i><i class="c42">0.9</i><i class="c42">0.9</i><i class="c42">0.9</i><i class="c43">1.0</i><i class="c45">1.2</i><i class="c46">1.3</i><i class="c46">1.3</i><i class="c46">1.3</i><i class="c46">1.3</i><i class="c45">1.2</i><i class="c44">1.1</i><i class="c44">1.1</i><i class="c41">0.8</i><i class="c43">1.0</i><i class="c46">1.3</i><i class="c46">1.3</i><i class="c45">1.2</i><i class="c45">1.2</i><i class="c45">1.2</i><i class="c41">0.8</i><i class="c41">0.8</i><i class="c41">0.8</i><i class="c40">0.7</i><i class="c40">0.7</i><i class="c44">1.1</i><i class="c44">1.1</i><i class="c45">1.2</i><i class="c46">1.3</i><i class="c44">1.1</i><i class="c39">0.6</i><i class="c39">0.6</i><i class="c38">0.5</i><i class="c37">0.4</i><i class="c37">0.4</i><i class="c38">0.5</i><i class="c39">0.6</i><i class="c39">0.6</i><i class="c39">0.6</i><i class="c39">0.6</i><i class="c37">0.4</i></div>
<div class="r" style="top:865px;height:23px;line-height:19.65px"><i class="c43">1.0</i><i class="c42">0.9</i><i class="c42">0.9</i><i class="c43">1.0</i><i class="c44">1.1</i><i class="c45">1.2</i><i class="c45">1.2</i><i class="c46">1.3</i><i class="c45">1.2</i><i class="c45">1.2</i><i class="c44">1.1</i><i class="c43">1.0</i><i class="c43">1.0</i><i class="c40">0.7</i><i class="c39">0.6</i><i class="c42">0.9</i><i class="c43">1.0</i><i class="c45">1.2</i><i class="c45">1.2</i><i class="c44">1.1</i><i class="c42">0.9</i><i class="c42">0.9</i><i class="c41">0.8</i><i class="c40">0.7</i><i class="c39">0.6</i><i class="c43">1.0</i><i class="c43">1.0</i><i class="c44">1.1</i><i class="c43">1.0</i><i class="c43">1.0</i><i class="c38">0.5</i><i class="c38">0.5</i><i class="c37">0.4</i><i class="c37">0.4</i><i class="c37">0.4</i><i class="c38">0.5</i><i class="c39">0.6</i><i class="c39">0.6</i><i class="c39">0.6</i><i class="c39">0.6</i><i class="c37">0.4</i></div>
<div class="r" style="top:888px;height:24px;line-height:20.29px"><i class="c42">0.9</i><i class="c42">0.9</i><i class="c42">0.9</i><i class="c42">0.9</i><i class="c42">0.9</i><i class="c43">1.0</i><i class="c43">1.0</i><i class="c44">1.1</i><i class="c42">0.9</i><i class="c42">0.9</i><i class="c41">0.8</i><i class="c39">0.6</i><i class="c40">0.7</i><i class="c37">0.4</i><i class="c36">0.3</i><i class="c35">0.2</i><i class="c36">0.3</i><i class="c38">0.5</i><i class="c38">0.5</i><i class="c37">0.4</i><i class="c37">0.4</i><i class="c38">0.5</i><i class="c37">0.4</i><i class="c36">0.3</i><i class="c35">0.2</i><i class="c37">0.4</i><i class="c37">0.4</i><i class="c38">0.5</i><i class="c38">0.5</i><i class="c38">0.5</i><i class="c36">0.3</i><i class="c36">0.3</i><i class="c35">0.2</i><i class="c35">0.2</i><i class="c35">0.2</i><i class="c36">0.3</i><i class="c37">0.4</i><i class="c37">0.4</i><i class="c37">0.4</i><i class="c37">0.4</i><i class="c37">0.4</i></div>
<div class="r" style="top:912px;height:23px;line-height:18.93px"><i class="c43">1.0</i><i class="c43">1.0</i><i class="c43">1.0</i><i class="c43">1.0</i><i class="c43">1.0</i><i class="c43">1.0</i><i class="c43">1.0</i><i class="c44">1.1</i><i class="c43">1.0</i><i class="c43">1.0</i><i class="c41">0.8</i><i class="c40">0.7</i><i class="c41">0.8</i><i class="c38">0.5</i><i class="c37">0.4</i><i class="c36">0.3</i><i class="c36">0.3</i><i class="c38">0.5</i><i class="c37">0.4</i><i class="c36">0.3</i><i class="c37">0.4</i><i class="c37">0.4</i><i class="c36">0.3</i><i class="c36">0.3</i><i class="c35">0.2</i><i class="c37">0.4</i><i class="c37">0.4</i><i class="c39">0.6</i><i class="c39">0.6</i><i class="c39">0.6</i><i class="c37">0.4</i><i class="c36">0.3</i><i class="c35">0.2</i><i class="c35">0.2</i><i class="c35">0.2</i><i class="c36">0.3</i><i class="c37">0.4</i><i class="c37">0.4</i><i class="c37">0.4</i><i class="c37">0.4</i><i class="c37">0.4</i></div>
<div class="r" style="top:935px;height:23px;line-height:19.57px"><i class="c39">0.6</i><i class="c39">0.6</i><i class="c39">0.6</i><i class="c39">0.6</i><i class="c39">0.6</i><i class="c39">0.6</i><i class="c39">0.6</i><i class="c40">0.7</i><i class="c40">0.7</i><i class="c40">0.7</i><i class="c39">0.6</i><i class="c38">0.5</i><i class="c38">0.5</i><i class="c37">0.4</i><i class="c36">0.3</i><i class="c35">0.2</i><i class="c35">0.2</i><i class="c34">0.1</i><i class="c34">0.1</i><i class="c33 n">(0.0)</i><i class="c34">0.1</i><i class="c34">0.1</i><i class="c34">0.1</i><i class="c34">0.1</i><i class="c33">0.0</i><i class="c38">0.5</i><i class="c38">0.5</i><i class="c39">0.6</i><i class="c39">0.6</i><i class="c38">0.5</i><i class="c37">0.4</i><i class="c36">0.3</i><i class="c36">0.3</i><i class="c37">0.4</i><i class="c37">0.4</i><i class="c37">0.4</i><i class="c38">0.5</i><i class="c38">0.5</i><i class="c38">0.5</i><i class="c38">0.5</i><i class="c38">0.5</i></div>
<div class="r" style="top:958px;height:24px;line-height:20.21px"><i class="c37">0.4</i><i class="c37">0.4</i><i class="c37">0.4</i><i class="c37">0.4</i><i class="c37">0.4</i><i class="c37">0.4</i><i class="c37">0.4</i><i class="c37">0.4</i><i class="c37">0.4</i><i class="c37">0.4</i><i class="c36">0.3</i><i class="c35">0.2</i><i class="c35">0.2</i><i class="c34">0.1</i><i class="c34">0.1</i><i class="c33 n">(0.0)</i><i class="c33 n">(0.0)</i><i class="c32 n">(0.1)</i><i class="c32 n">(0.1)</i><i class="c31 n">(0.2)</i><i class="c32 n">(0.1)</i><i class="c32 n">(0.1)</i><i class="c32 n">(0.1)</i><i class="c32 n">(0.1)</i><i class="c32 n">(0.1)</i><i class="c36">0.3</i><i class="c36">0.3</i><i class="c37">0.4</i><i class="c37">0.4</i><i class="c37">0.4</i><i class="c36">0.3</i><i class="c35">0.2</i><i class="c35">0.2</i><i class="c36">0.3</i><i class="c36">0.3</i><i class="c36">0.3</i><i class="c37">0.4</i><i class="c37">0.4</i><i class="c37">0.4</i><i class="c37">0.4</i><i class="c37">0.4</i></div>
<div class="r" style="top:982px;height:23px;line-height:18.85px"><i class="c37">0.4</i><i class="c37">0.4</i><i class="c37">0.4</i><i class="c37">0.4</i><i class="c37">0.4</i><i class="c37">0.4</i><i class="c37">0.4</i><i class="c38">0.5</i><i class="c38">0.5</i><i class="c38">0.5</i><i class="c35">0.2</i><i class="c35">0.2</i><i class="c35">0.2</i><i class="c34">0.1</i><i class="c34">0.1</i><i class="c34">0.1</i><i class="c34">0.1</i><i class="c33">0.0</i><i class="c33">0.0</i><i class="c33">0.0</i><i class="c35">0.2</i><i class="c34">0.1</i><i class="c34">0.1</i><i class="c34">0.1</i><i class="c34">0.1</i><i class="c38">0.5</i><i class="c38">0.5</i><i class="c38">0.5</i><i class="c38">0.5</i><i class="c38">0.5</i><i class="c37">0.4</i><i class="c36">0.3</i><i class="c36">0.3</i><i class="c36">0.3</i><i class="c36">0.3</i><i class="c36">0.3</i><i class="c37">0.4</i><i class="c37">0.4</i><i class="c37">0.4</i><i class="c37">0.4</i><i class="c37">0.4</i></div>
<div class="r" style="top:1005px;height:23px;line-height:19.49px"><i class="c38">0.5</i><i class="c38">0.5</i><i class="c38">0.5</i><i class="c38">0.5</i><i class="c38">0.5</i><i class="c38">0.5</i><i class="c38">0.5</i><i class="c39">0.6</i><i class="c39">0.6</i><i class="c39">0.6</i><i class="c36">0.3</i><i class="c36">0.3</i><i class="c36">0.3</i><i class="c35">0.2</i><i class="c35">0.2</i><i class="c35">0.2</i><i class="c35">0.2</i><i class="c34">0.1</i><i class="c34">0.1</i><i class="c34">0.1</i><i class="c35">0.2</i><i class="c35">0.2</i><i class="c35">0.2</i><i class="c35">0.2</i><i class="c35">0.2</i><i class="c38">0.5</i><i class="c38">0.5</i><i class="c38">0.5</i><i class="c38">0.5</i><i class="c38">0.5</i><i class="c37">0.4</i><i class="c36">0.3</i><i class="c36">0.3</i><i class="c36">0.3</i><i class="c36">0.3</i><i class="c36">0.3</i><i class="c37">0.4</i><i class="c37">0.4</i><i class="c37">0.4</i><i class="c37">0.4</i><i class="c37">0.4</i></div>
<div class="r" style="top:1028px;height:24px;line-height:20.13px"><i class="c38">0.5</i><i class="c38">0.5</i><i class="c38">0.5</i><i class="c38">0.5</i><i class="c38">0.5</i><i class="c38">0.5</i><i class="c38">0.5</i><i class="c39">0.6</i><i class="c39">0.6</i><i class="c39">0.6</i><i class="c36">0.3</i><i class="c36">0.3</i><i class="c36">0.3</i><i class="c35">0.2</i><i class="c35">0.2</i><i class="c35">0.2</i><i class="c35">0.2</i><i class="c34">0.1</i><i class="c34">0.1</i><i class="c34">0.1</i><i class="c35">0.2</i><i class="c35">0.2</i><i class="c35">0.2</i><i class="c35">0.2</i><i class="c35">0.2</i><i class="c38">0.5</i><i class="c38">0.5</i><i class="c38">0.5</i><i class="c38">0.5</i><i class="c38">0.5</i><i class="c37">0.4</i><i class="c36">0.3</i><i class="c36">0.3</i><i class="c36">0.3</i><i class="c36">0.3</i><i class="c36">0.3</i><i class="c37">0.4</i><i class="c37">0.4</i><i class="c37">0.4</i><i class="c37">0.4</i><i class="c37">0.4</i></div>
<div class="r" style="top:1052px;height:23px;line-height:18.77px"><i class="c38">0.5</i><i class="c38">0.5</i><i class="c38">0.5</i><i class="c38">0.5</i><i class="c38">0.5</i><i class="c38">0.5</i><i class="c38">0.5</i><i class="c39">0.6</i><i class="c39">0.6</i><i class="c39">0.6</i><i class="c36">0.3</i><i class="c36">0.3</i><i class="c36">0.3</i><i class="c35">0.2</i><i class="c35">0.2</i><i class="c35">0.2</i><i class="c35">0.2</i><i class="c34">0.1</i><i class="c34">0.1</i><i class="c34">0.1</i><i class="c35">0.2</i><i class="c35">0.2</i><i class="c35">0.2</i><i class="c35">0.2</i><i class="c35">0.2</i><i class="c38">0.5</i><i class="c38">0.5</i><i class="c38">0.5</i><i class="c38">0.5</i><i class="c38">0.5</i><i class="c37">0.4</i><i class="c36">0.3</i><i class="c36">0.3</i><i class="c36">0.3</i><i class="c36">0.3</i><i class="c36">0.3</i><i class="c37">0.4</i><i class="c37">0.4</i><i class="c37">0.4</i><i class="c37">0.4</i><i class="c37">0.4</i></div>
<div class="r" style="top:1075px;height:23px;line-height:19.41px"><i class="c38">0.5</i><i class="c38">0.5</i><i class="c38">0.5</i><i class="c38">0.5</i><i class="c38">0.5</i><i class="c38">0.5</i><i class="c38">0.5</i><i class="c39">0.6</i><i class="c39">0.6</i><i class="c39">0.6</i><i class="c36">0.3</i><i class="c36">0.3</i><i class="c36">0.3</i><i class="c35">0.2</i><i class="c35">0.2</i><i class="c35">0.2</i><i class="c35">0.2</i><i class="c34">0.1</i><i class="c34">0.1</i><i class="c34">0.1</i><i class="c35">0.2</i><i class="c35">0.2</i><i class="c35">0.2</i><i class="c35">0.2</i><i class="c35">0.2</i><i class="c38">0.5</i><i class="c38">0.5</i><i class="c38">0.5</i><i class="c38">0.5</i><i class="c38">0.5</i><i class="c37">0.4</i><i class="c36">0.3</i><i class="c36">0.3</i><i class="c36">0.3</i><i class="c36">0.3</i><i class="c36">0.3</i><i class="c37">0.4</i><i class="c37">0.4</i><i class="c37">0.4</i><i class="c37">0.4</i><i class="c37">0.4</i></div>
<div class="r" style="top:1098px;height:24px;line-height:20.05px"><i class="c38">0.5</i><i class="c38">0.5</i><i class="c38">0.5</i><i class="c38">0.5</i><i class="c38">0.5</i><i class="c38">0.5</i><i class="c38">0.5</i><i class="c39">0.6</i><i class="c39">0.6</i><i class="c39">0.6</i><i class="c36">0.3</i><i class="c36">0.3</i><i class="c36">0.3</i><i class="c35">0.2</i><i class="c35">0.2</i><i class="c35">0.2</i><i class="c35">0.2</i><i class="c34">0.1</i><i class="c34">0.1</i><i class="c34">0.1</i><i class="c35">0.2</i><i class="c35">0.2</i><i class="c35">0.2</i><i class="c35">0.2</i><i class="c35">0.2</i><i class="c38">0.5</i><i class="c38">0.5</i><i class="c38">0.5</i><i class="c38">0.5</i><i class="c38">0.5</i><i class="c37">0.4</i><i class="c36">0.3</i><i class="c36">0.3</i><i class="c36">0.3</i><i class="c36">0.3</i><i class="c36">0.3</i><i class="c37">0.4</i><i class="c37">0.4</i><i class="c37">0.4</i><i class="c37">0.4</i><i class="c37">0.4</i></div>
<div class="r" style="top:1122px;height:23px;line-height:18.69px"><i class="c33">0.0</i><i class="c33">0.0</i><i class="c33">0.0</i><i class="c33">0.0</i><i class="c33">0.0</i><i class="c33">0.0</i><i class="c33">0.0</i><i class="c33">0.0</i><i class="c33">0.0</i><i class="c33">0.0</i><i class="c33">0.0</i><i class="c33">0.0</i><i class="c33">0.0</i><i class="c33">0.0</i><i class="c33">0.0</i><i class="c33">0.0</i><i class="c33">0.0</i><i class="c33">0.0</i><i class="c33">0.0</i><i class="c33">0.0</i><i class="c33">0.0</i><i class="c33">0.0</i><i class="c33">0.0</i><i class="c33">0.0</i><i class="c33">0.0</i><i class="c33">0.0</i><i class="c33">0.0</i><i class="c33">0.0</i><i class="c33">0.0</i><i class="c33">0.0</i><i class="c33">0.0</i><i class="c33">0.0</i><i class="c33">0.0</i><i class="c33">0.0</i><i class="c33">0.0</i><i class="c33">0.0</i><i class="c33">0.0</i><i class="c33">0.0</i><i class="c33">0.0</i><i class="c33">0.0</i><i class="c33">0.0</i></div>
<div class="r" style="top:1145px;height:23px;line-height:19.33px"><i class="c33">0.0</i><i class="c33">0.0</i><i class="c33">0.0</i><i class="c33">0.0</i><i class="c33">0.0</i><i class="c33">0.0</i><i class="c33">0.0</i><i class="c33">0.0</i><i class="c33">0.0</i><i class="c33">0.0</i><i class="c33">0.0</i><i class="c33">0.0</i><i class="c33">0.0</i><i class="c33">0.0</i><i class="c33">0.0</i><i class="c33">0.0</i><i class="c33">0.0</i><i class="c33">0.0</i><i class="c33">0.0</i><i class="c33">0.0</i><i class="c33">0.0</i><i class="c33">0.0</i><i class="c33">0.0</i><i class="c33">0.0</i><i class="c33">0.0</i><i class="c33">0.0</i><i class="c33">0.0</i><i class="c33">0.0</i><i class="c33">0.0</i><i class="c33">0.0</i><i class="c33">0.0</i><i class="c33">0.0</i><i class="c33">0.0</i><i class="c33">0.0</i><i class="c33">0.0</i><i class="c33">0.0</i><i class="c33">0.0</i><i class="c33">0.0</i><i class="c33">0.0</i><i class="c33">0.0</i><i class="c33">0.0</i></div>
<div class="r" style="top:1168px;height:24px;line-height:19.97px"><i class="c33">0.0</i><i class="c33">0.0</i><i class="c33">0.0</i><i class="c33">0.0</i><i class="c33">0.0</i><i class="c33">0.0</i><i class="c33">0.0</i><i class="c33">0.0</i><i class="c33">0.0</i><i class="c33">0.0</i><i class="c33">0.0</i><i class="c33">0.0</i><i class="c33">0.0</i><i class="c33">0.0</i><i class="c33">0.0</i><i class="c33">0.0</i><i class="c33">0.0</i><i class="c33">0.0</i><i class="c33">0.0</i><i class="c33">0.0</i><i class="c33">0.0</i><i class="c33">0.0</i><i class="c33">0.0</i><i class="c33">0.0</i><i class="c33">0.0</i><i class="c33">0.0</i><i class="c33">0.0</i><i class="c33">0.0</i><i class="c33">0.0</i><i class="c33">0.0</i><i class="c33">0.0</i><i class="c33">0.0</i><i class="c33">0.0</i><i class="c33">0.0</i><i class="c33">0.0</i><i class="c33">0.0</i><i class="c33">0.0</i><i class="c33">0.0</i><i class="c33">0.0</i><i class="c33">0.0</i><i class="c33">0.0</i></div>
<div class="r" style="top:1192px;height:23px;line-height:18.61px"><i class="c33">0.0</i><i class="c33">0.0</i><i class="c33">0.0</i><i class="c33">0.0</i><i class="c33">0.0</i><i class="c33">0.0</i><i class="c33">0.0</i><i class="c33">0.0</i><i class="c33">0.0</i><i class="c33">0.0</i><i class="c33">0.0</i><i class="c33">0.0</i><i class="c33">0.0</i><i class="c33">0.0</i><i class="c33">0.0</i><i class="c33">0.0</i><i class="c33">0.0</i><i class="c33">0.0</i><i class="c33">0.0</i><i class="c33">0.0</i><i class="c33">0.0</i><i class="c33">0.0</i><i class="c33">0.0</i><i class="c33">0.0</i><i class="c33">0.0</i><i class="c33">0.0</i><i class="c33">0.0</i><i class="c33">0.0</i><i class="c33">0.0</i><i class="c33">0.0</i><i class="c33">0.0</i><i class="c33">0.0</i><i class="c33">0.0</i><i class="c33">0.0</i><i class="c33">0.0</i><i class="c33">0.0</i><i class="c33">0.0</i><i class="c33">0.0</i><i class="c33">0.0</i><i class="c33">0.0</i><i class="c33">0.0</i></div>
<div class="r" style="top:1215px;height:23px;line-height:19.25px"><i class="c33">0.0</i><i class="c33">0.0</i><i class="c33">0.0</i><i class="c33">0.0</i><i class="c33">0.0</i><i class="c33">0.0</i><i class="c33">0.0</i><i class="c33">0.0</i><i class="c33">0.0</i><i class="c33">0.0</i><i class="c33">0.0</i><i class="c33">0.0</i><i class="c33">0.0</i><i class="c33">0.0</i><i class="c33">0.0</i><i class="c33">0.0</i><i class="c33">0.0</i><i class="c33">0.0</i><i class="c33">0.0</i><i class="c33">0.0</i><i class="c33">0.0</i><i class="c33">0.0</i><i class="c33">0.0</i><i class="c33">0.0</i><i class="c33">0.0</i><i class="c33">0.0</i><i class="c33">0.0</i><i class="c33">0.0</i><i class="c33">0.0</i><i class="c33">0.0</i><i class="c33">0.0</i><i class="c33">0.0</i><i class="c33">0.0</i><i class="c33">0.0</i><i class="c33">0.0</i><i class="c33">0.0</i><i class="c33">0.0</i><i class="c33">0.0</i><i class="c33">0.0</i><i class="c33">0.0</i><i class="c33">0.0</i></div>
<div class="r" style="top:1238px;height:24px;line-height:19.89px"><i class="c33">0.0</i><i class="c33">0.0</i><i class="c33">0.0</i><i class="c33">0.0</i><i class="c33">0.0</i><i class="c33">0.0</i><i class="c33">0.0</i><i class="c33">0.0</i><i class="c33">0.0</i><i class="c33">0.0</i><i class="c33">0.0</i><i class="c33">0.0</i><i class="c33">0.0</i><i class="c33">0.0</i><i class="c33">0.0</i><i class="c33">0.0</i><i class="c33">0.0</i><i class="c33">0.0</i><i class="c33">0.0</i><i class="c33">0.0</i><i class="c33">0.0</i><i class="c33">0.0</i><i class="c33">0.0</i><i class="c33">0.0</i><i class="c33">0.0</i><i class="c33">0.0</i><i class="c33">0.0</i><i class="c33">0.0</i><i class="c33">0.0</i><i class="c33">0.0</i><i class="c33">0.0</i><i class="c33">0.0</i><i class="c33">0.0</i><i class="c33">0.0</i><i class="c33">0.0</i><i class="c33">0.0</i><i class="c33">0.0</i><i class="c33">0.0</i><i class="c33">0.0</i><i class="c33">0.0</i><i class="c33">0.0</i></div>
<div class="r" style="top:1262px;height:23px;line-height:18.53px"><i class="c33">0.0</i><i class="c33">0.0</i><i class="c33">0.0</i><i class="c33">0.0</i><i class="c33">0.0</i><i class="c33">0.0</i><i class="c33">0.0</i><i class="c33">0.0</i><i class="c33">0.0</i><i class="c33">0.0</i><i class="c33">0.0</i><i class="c33">0.0</i><i class="c33">0.0</i><i class="c33">0.0</i><i class="c33">0.0</i><i class="c33">0.0</i><i class="c33">0.0</i><i class="c33">0.0</i><i class="c33">0.0</i><i class="c33">0.0</i><i class="c33">0.0</i><i class="c33">0.0</i><i class="c33">0.0</i><i class="c33">0.0</i><i class="c33">0.0</i><i class="c33">0.0</i><i class="c33">0.0</i><i class="c33">0.0</i><i class="c33">0.0</i><i class="c33">0.0</i><i class="c33">0.0</i><i class="c33">0.0</i><i class="c33">0.0</i><i class="c33">0.0</i><i class="c33">0.0</i><i class="c33">0.0</i><i class="c33">0.0</i><i class="c33">0.0</i><i class="c33">0.0</i><i class="c33">0.0</i><i class="c33">0.0</i></div>
<div class="r" style="top:1285px;height:23px;line-height:19.17px"><i class="c33">0.0</i><i class="c33">0.0</i><i class="c33">0.0</i><i class="c33">0.0</i><i class="c33">0.0</i><i class="c33">0.0</i><i class="c33">0.0</i><i class="c33">0.0</i><i class="c33">0.0</i><i class="c33">0.0</i><i class="c33">0.0</i><i class="c33">0.0</i><i class="c33">0.0</i><i class="c33">0.0</i><i class="c33">0.0</i><i class="c33">0.0</i><i class="c33">0.0</i><i class="c33">0.0</i><i class="c33">0.0</i><i class="c33">0.0</i><i class="c33">0.0</i><i class="c33">0.0</i><i class="c33">0.0</i><i class="c33">0.0</i><i class="c33">0.0</i><i class="c33">0.0</i><i class="c33">0.0</i><i class="c33">0.0</i><i class="c33">0.0</i><i class="c33">0.0</i><i class="c33">0.0</i><i class="c33">0.0</i><i class="c33">0.0</i><i class="c33">0.0</i><i class="c33">0.0</i><i class="c33">0.0</i><i class="c33">0.0</i><i class="c33">0.0</i><i class="c33">0.0</i><i class="c33">0.0</i><i class="c33">0.0</i></div>
<div class="r" style="top:1308px;height:24px;line-height:19.81px"><i class="c33">0.0</i><i class="c33">0.0</i><i class="c33">0.0</i><i class="c33">0.0</i><i class="c33">0.0</i><i class="c33">0.0</i><i class="c33">0.0</i><i class="c33">0.0</i><i class="c33">0.0</i><i class="c33">0.0</i><i class="c33">0.0</i><i class="c33">0.0</i><i class="c33">0.0</i><i class="c33">0.0</i><i class="c33">0.0</i><i class="c33">0.0</i><i class="c33">0.0</i><i class="c33">0.0</i><i class="c33">0.0</i><i class="c33">0.0</i><i class="c33">0.0</i><i class="c33">0.0</i><i class="c33">0.0</i><i class="c33">0.0</i><i class="c33">0.0</i><i class="c33">0.0</i><i class="c33">0.0</i><i class="c33">0.0</i><i class="c33">0.0</i><i class="c33">0.0</i><i class="c33">0.0</i><i class="c33">0.0</i><i class="c33">0.0</i><i class="c33">0.0</i><i class="c33">0.0</i><i class="c33">0.0</i><i class="c33">0.0</i><i class="c33">0.0</i><i class="c33">0.0</i><i class="c33">0.0</i><i class="c33">0.0</i></div>
<div class="r" style="top:1332px;height:23px;line-height:18.45px"><i class="c33">0.0</i><i class="c33">0.0</i><i class="c33">0.0</i><i class="c33">0.0</i><i class="c33">0.0</i><i class="c33">0.0</i><i class="c33">0.0</i><i class="c33">0.0</i><i class="c33">0.0</i><i class="c33">0.0</i><i class="c33">0.0</i><i class="c33">0.0</i><i class="c33">0.0</i><i class="c33">0.0</i><i class="c33">0.0</i><i class="c33">0.0</i><i class="c33">0.0</i><i class="c33">0.0</i><i class="c33">0.0</i><i class="c33">0.0</i><i class="c33">0.0</i><i class="c33">0.0</i><i class="c33">0.0</i><i class="c33">0.0</i><i class="c33">0.0</i><i class="c33">0.0</i><i class="c33">0.0</i><i class="c33">0.0</i><i class="c33">0.0</i><i class="c33">0.0</i><i class="c33">0.0</i><i class="c33">0.0</i><i class="c33">0.0</i><i class="c33">0.0</i><i class="c33">0.0</i><i class="c33">0.0</i><i class="c33">0.0</i><i class="c33">0.0</i><i class="c33">0.0</i><i class="c33">0.0</i><i class="c33">0.0</i></div>
<div class="r" style="top:1355px;height:23px;line-height:19.09px"><i class="c33">0.0</i><i class="c33">0.0</i><i class="c33">0.0</i><i class="c33">0.0</i><i class="c33">0.0</i><i class="c33">0.0</i><i class="c33">0.0</i><i class="c33">0.0</i><i class="c33">0.0</i><i class="c33">0.0</i><i class="c33">0.0</i><i class="c33">0.0</i><i class="c33">0.0</i><i class="c33">0.0</i><i class="c33">0.0</i><i class="c33">0.0</i><i class="c33">0.0</i><i class="c33">0.0</i><i class="c33">0.0</i><i class="c33">0.0</i><i class="c33">0.0</i><i class="c33">0.0</i><i class="c33">0.0</i><i class="c33">0.0</i><i class="c33">0.0</i><i class="c33">0.0</i><i class="c33">0.0</i><i class="c33">0.0</i><i class="c33">0.0</i><i class="c33">0.0</i><i class="c33">0.0</i><i class="c33">0.0</i><i class="c33">0.0</i><i class="c33">0.0</i><i class="c33">0.0</i><i class="c33">0.0</i><i class="c33">0.0</i><i class="c33">0.0</i><i class="c33">0.0</i><i class="c33">0.0</i><i class="c33">0.0</i></div>
<div class="r" style="top:1378px;height:24px;line-height:19.73px"><i class="c33">0.0</i><i class="c33">0.0</i><i class="c33">0.0</i><i class="c33">0.0</i><i class="c33">0.0</i><i class="c33">0.0</i><i class="c33">0.0</i><i class="c33">0.0</i><i class="c33">0.0</i><i class="c33">0.0</i><i class="c33">0.0</i><i class="c33">0.0</i><i class="c33">0.0</i><i class="c33">0.0</i><i class="c33">0.0</i><i class="c33">0.0</i><i class="c33">0.0</i><i class="c33">0.0</i><i class="c33">0.0</i><i class="c33">0.0</i><i class="c33">0.0</i><i class="c33">0.0</i><i class="c33">0.0</i><i class="c33">0.0</i><i class="c33">0.0</i><i class="c33">0.0</i><i class="c33">0.0</i><i class="c33">0.0</i><i class="c33">0.0</i><i class="c33">0.0</i><i class="c33">0.0</i><i class="c33">0.0</i><i class="c33">0.0</i><i class="c33">0.0</i><i class="c33">0.0</i><i class="c33">0.0</i><i class="c33">0.0</i><i class="c33">0.0</i><i class="c33">0.0</i><i class="c33">0.0</i><i class="c33">0.0</i></div>
<div class="r" style="top:1402px;height:23px;line-height:18.37px"><i class="c33">0.0</i><i class="c33">0.0</i><i class="c33">0.0</i><i class="c33">0.0</i><i class="c33">0.0</i><i class="c33">0.0</i><i class="c33">0.0</i><i class="c33">0.0</i><i class="c33">0.0</i><i class="c33">0.0</i><i class="c33">0.0</i><i class="c33">0.0</i><i class="c33">0.0</i><i class="c33">0.0</i><i class="c33">0.0</i><i class="c33">0.0</i><i class="c33">0.0</i><i class="c33">0.0</i><i class="c33">0.0</i><i class="c33">0.0</i><i class="c33">0.0</i><i class="c33">0.0</i><i class="c33">0.0</i><i class="c33">0.0</i><i class="c33">0.0</i><i class="c33">0.0</i><i class="c33">0.0</i><i class="c33">0.0</i><i class="c33">0.0</i><i class="c33">0.0</i><i class="c33">0.0</i><i class="c33">0.0</i><i class="c33">0.0</i><i class="c33">0.0</i><i class="c33">0.0</i><i class="c33">0.0</i><i class="c33">0.0</i><i class="c33">0.0</i><i class="c33">0.0</i><i class="c33">0.0</i><i class="c33">0.0</i></div>
<div class="r" style="top:1425px;height:23px;line-height:19.01px"><i class="c33">0.0</i><i class="c33">0.0</i><i class="c33">0.0</i><i class="c33">0.0</i><i class="c33">0.0</i><i class="c33">0.0</i><i class="c33">0.0</i><i class="c33">0.0</i><i class="c33">0.0</i><i class="c33">0.0</i><i class="c33">0.0</i><i class="c33">0.0</i><i class="c33">0.0</i><i class="c33">0.0</i><i class="c33">0.0</i><i class="c33">0.0</i><i class="c33">0.0</i><i class="c33">0.0</i><i class="c33">0.0</i><i class="c33">0.0</i><i class="c33">0.0</i><i class="c33">0.0</i><i class="c33">0.0</i><i class="c33">0.0</i><i class="c33">0.0</i><i class="c33">0.0</i><i class="c33">0.0</i><i class="c33">0.0</i><i class="c33">0.0</i><i class="c33">0.0</i><i class="c33">0.0</i><i class="c33">0.0</i><i class="c33">0.0</i><i class="c33">0.0</i><i class="c33">0.0</i><i class="c33">0.0</i><i class="c33">0.0</i><i class="c33">0.0</i><i class="c33">0.0</i><i class="c33">0.0</i><i class="c33">0.0</i></div>
<div class="r" style="top:1448px;height:24px;line-height:19.05px"><i class="c33">0.0</i><i class="c33">0.0</i><i class="c33">0.0</i><i class="c33">0.0</i><i class="c33">0.0</i><i class="c33">0.0</i><i class="c33">0.0</i><i class="c33">0.0</i><i class="c33">0.0</i><i class="c33">0.0</i><i class="c33">0.0</i><i class="c33">0.0</i><i class="c33">0.0</i><i class="c33">0.0</i><i class="c33">0.0</i><i class="c33">0.0</i><i class="c33">0.0</i><i class="c33">0.0</i><i class="c33">0.0</i><i class="c33">0.0</i><i class="c33">0.0</i><i class="c33">0.0</i><i class="c33">0.0</i><i class="c33">0.0</i><i class="c33">0.0</i><i class="c33">0.0</i><i class="c33">0.0</i><i class="c33">0.0</i><i class="c33">0.0</i><i class="c33">0.0</i><i class="c33">0.0</i><i class="c33">0.0</i><i class="c33">0.0</i><i class="c33">0.0</i><i class="c33">0.0</i><i class="c33">0.0</i><i class="c33">0.0</i><i class="c33">0.0</i><i class="c33">0.0</i><i class="c33">0.0</i><i class="c33">0.0</i></div>
<div class="r" style="top:1472px;height:23px;line-height:16.69px"><i class="c33">0.0</i><i class="c33">0.0</i><i class="c33">0.0</i><i class="c33">0.0</i><i class="c33">0.0</i><i class="c33">0.0</i><i class="c33">0.0</i><i class="c33">0.0</i><i class="c33">0.0</i><i class="c33">0.0</i><i class="c33">0.0</i><i class="c33">0.0</i><i class="c33">0.0</i><i class="c33">0.0</i><i class="c33">0.0</i><i class="c33">0.0</i><i class="c33">0.0</i><i class="c33">0.0</i><i class="c33">0.0</i><i class="c33">0.0</i><i class="c33">0.0</i><i class="c33">0.0</i><i class="c33">0.0</i><i class="c33">0.0</i><i class="c33">0.0</i><i class="c33">0.0</i><i class="c33">0.0</i><i class="c33">0.0</i><i class="c33">0.0</i><i class="c33">0.0</i><i class="c33">0.0</i><i class="c33">0.0</i><i class="c33">0.0</i><i class="c33">0.0</i><i class="c33">0.0</i><i class="c33">0.0</i><i class="c33">0.0</i><i class="c33">0.0</i><i class="c33">0.0</i><i class="c33">0.0</i><i class="c33">0.0</i></div>
<div class="a fr" style="left:313.00px;top:414.00px;width:2379.00px;height:1081.38px"></div>
<div class="a fr" style="left:1183.00px;top:607.64px;width:639.00px;height:257.69px"></div>
</div></body></html>
